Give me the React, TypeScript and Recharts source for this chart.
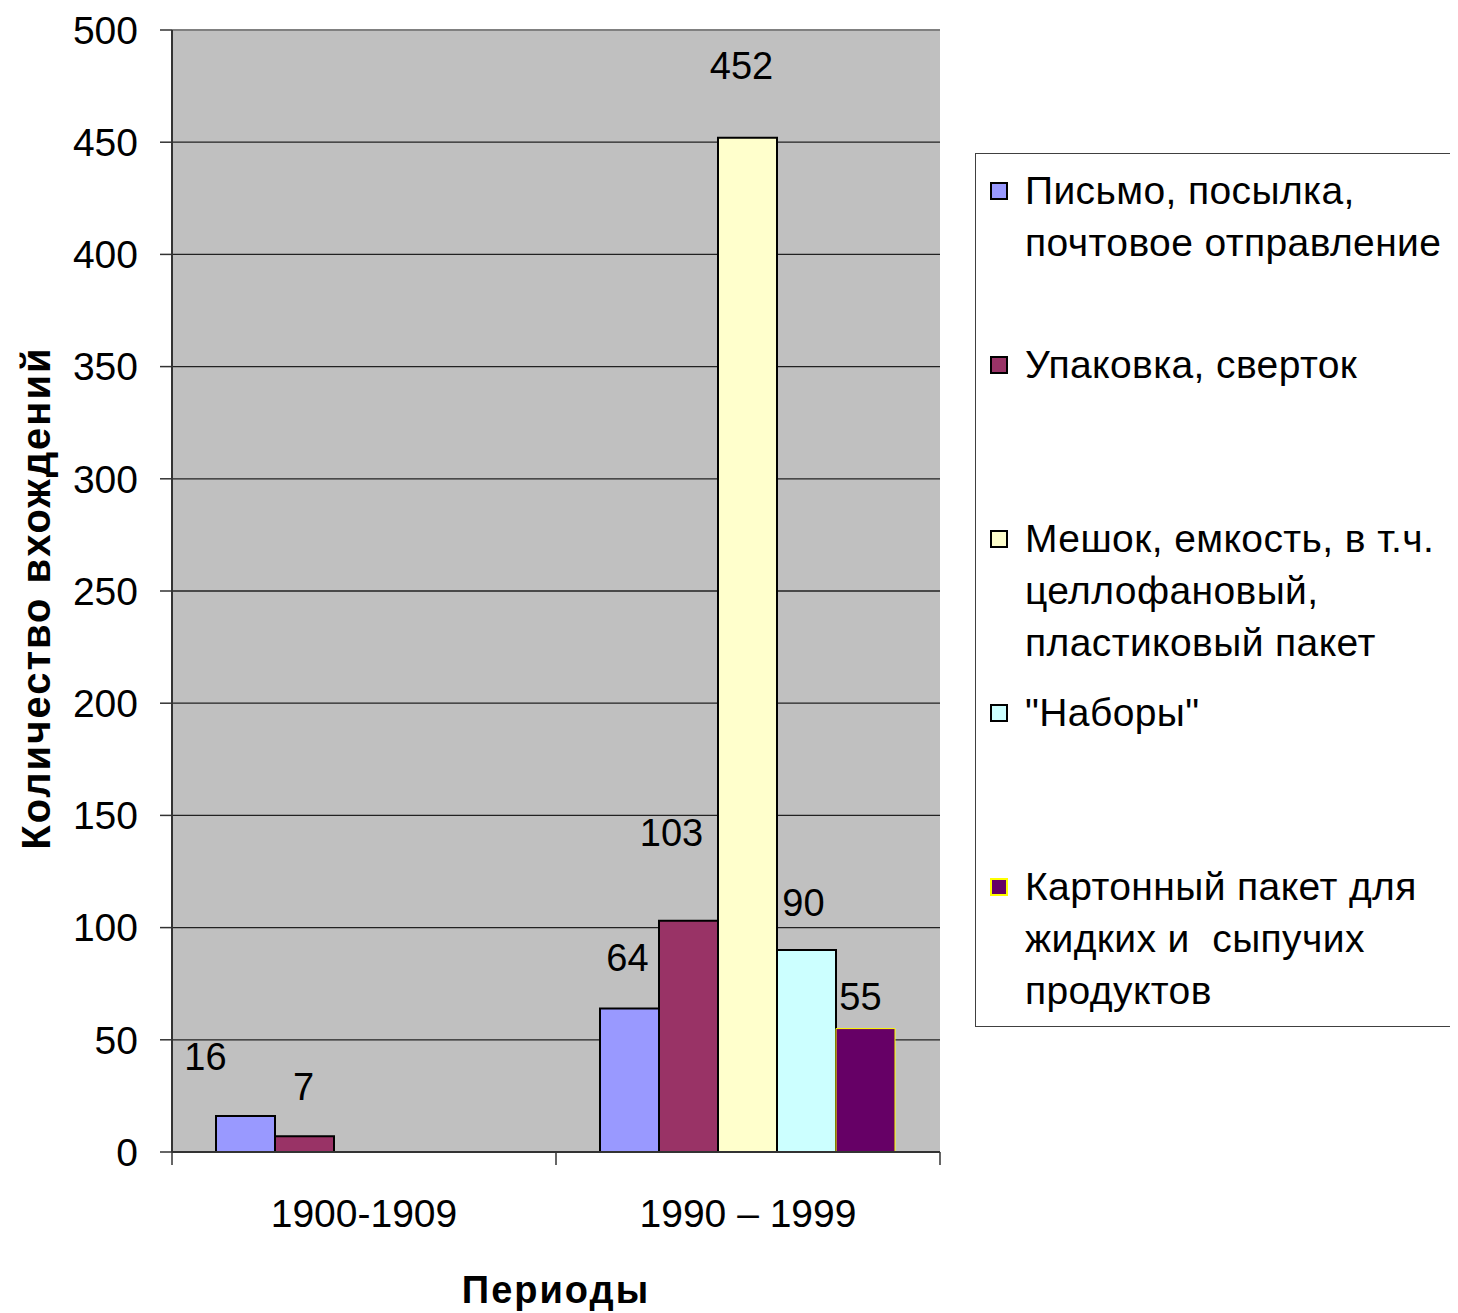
import React from 'react';
import { BarChart, Bar, XAxis, YAxis, CartesianGrid, Legend, ReferenceLine } from 'recharts';

const categories = ['1900-1909', '1990 – 1999'];
const pismo = [16, 64];
const upakovka = [7, 103];
const meshok = [null, 452];
const nabory = [null, 90];
const karton = [null, 55];
const yTicks = [0, 50, 100, 150, 200, 250, 300, 350, 400, 450, 500];

const seriesNames = {
  pismo: 'Письмо, посылка,\nпочтовое отправление',
  upakovka: 'Упаковка, сверток',
  meshok: 'Мешок, емкость, в т.ч.\nцеллофановый,\nпластиковый пакет',
  nabory: '"Наборы"',
  karton: 'Картонный пакет для\nжидких и  сыпучих\nпродуктов',
};

const seriesValues: Record<string, (number | null)[]> = { pismo, upakovka, meshok, nabory, karton };

const FONT = '"Liberation Sans", Arial, sans-serif';

const seriesStyle: Record<string, { fill: string; stroke: string; sw: number }> = {
  pismo: { fill: '#9999FF', stroke: '#000', sw: 2 },
  upakovka: { fill: '#993366', stroke: '#000', sw: 2 },
  meshok: { fill: '#FFFFCC', stroke: '#000', sw: 2 },
  nabory: { fill: '#CCFFFF', stroke: '#000', sw: 2 },
  karton: { fill: '#660066', stroke: '#FFFF00', sw: 1 },
};

// label placement tweaks (dx, distance above bar top) per series / category
const labelShift: Record<string, number[][]> = {
  pismo: [[-40, 59], [-2, 50]],
  upakovka: [[-1, 49], [-17, 88]],
  meshok: [[0, 40], [-6, 72]],
  nabory: [[0, 40], [-3, 47]],
  karton: [[0, 40], [-5, 32]],
};

const data = categories.map((c, i) => ({
  period: c,
  pismo: pismo[i],
  upakovka: upakovka[i],
  meshok: meshok[i],
  nabory: nabory[i],
  karton: karton[i],
}));

const keys = ['pismo', 'upakovka', 'meshok', 'nabory', 'karton'];

const makeLabel = (key: string) => (props: any) => {
  const { x, y, width, value } = props;
  if (value == null || value === 0) return null;
  const idx = seriesValues[key].indexOf(value);
  const sh = labelShift[key][idx] || [0, 40];
  return (
    <text
      x={x + width / 2 + sh[0]}
      y={y - sh[1]}
      textAnchor="middle"
      dominantBaseline="central"
      fontSize={38}
      fill="#000"
      fontFamily={FONT}
    >
      {value}
    </text>
  );
};

const CatTick = (props: any) => {
  const { x, y, payload, index, visibleTicksCount } = props;
  const n = visibleTicksCount || categories.length;
  const band = 768 / n;
  const axisY = y - 47;
  return (
    <g>
      <line x1={x - band / 2} x2={x - band / 2} y1={axisY} y2={axisY + 13} stroke="#333" strokeWidth={1.5} />
      {index === n - 1 && (
        <line x1={x + band / 2} x2={x + band / 2} y1={axisY} y2={axisY + 13} stroke="#333" strokeWidth={1.5} />
      )}
      <text x={x} y={y} dy="0.71em" textAnchor="middle" fontSize={39} fill="#000" fontFamily={FONT}>
        {payload.value}
      </text>
    </g>
  );
};

const LegendBox = () => (
  <div
    style={{
      boxSizing: 'border-box',
      width: 483,
      height: 874,
      borderTop: '1px solid #404040',
      borderLeft: '1px solid #404040',
      borderBottom: '1px solid #404040',
      paddingTop: 11,
      fontFamily: FONT,
      fontSize: 39,
      letterSpacing: 0.4,
      color: '#000',
      background: '#fff',
    }}
  >
    {keys.map((k) => (
      <div key={k} style={{ height: 174, display: 'flex', alignItems: 'flex-start' }}>
        <div style={{ width: 32, flexShrink: 0, display: 'flex', justifyContent: 'flex-end', paddingTop: 17 }}>
          <div
            style={{
              boxSizing: 'border-box',
              width: 18,
              height: 18,
              background: seriesStyle[k].fill,
              border: `2px solid ${k === 'karton' ? '#FFFF00' : '#000'}`,
            }}
          />
        </div>
        <div style={{ marginLeft: 17, whiteSpace: 'pre', lineHeight: '52px' }}>
          {(seriesNames as any)[k]}
        </div>
      </div>
    ))}
  </div>
);

export default function App() {
  return (
    <div style={{ width: 1450, height: 1305, fontFamily: FONT }}>
      <BarChart
        width={1450}
        height={1305}
        data={data}
        margin={{ top: 22, right: 518, bottom: 1, left: 0 }}
        barCategoryGap={44}
        barGap={0}
        style={{ fontFamily: FONT }}
      >
        <CartesianGrid vertical={false} stroke="#222" strokeWidth={1.3} fill="#C0C0C0" />
        <XAxis
          dataKey="period"
          height={160}
          tickLine={false}
          tickSize={0}
          tickMargin={47}
          axisLine={{ stroke: '#333', strokeWidth: 2 }}
          tick={<CatTick />}
          interval={0}
          label={{
            content: (p: any) => {
              const vb = p.viewBox;
              return (
                <text
                  x={vb.x + vb.width / 2}
                  y={vb.y + 138}
                  textAnchor="middle"
                  dominantBaseline="central"
                  fontSize={38}
                  fontWeight="bold"
                  letterSpacing={2}
                  fill="#000"
                  fontFamily={FONT}
                >
                  Периоды
                </text>
              );
            },
          }}
        />
        <YAxis
          width={164}
          domain={[0, 500]}
          ticks={yTicks}
          interval={0}
          tickSize={12}
          tickMargin={22}
          tick={{ fontSize: 39, fill: '#000', fontFamily: FONT }}
          tickLine={{ stroke: '#333', strokeWidth: 1.5 }}
          axisLine={{ stroke: '#333', strokeWidth: 2 }}
          label={{
            content: (p: any) => {
              const vb = p.viewBox;
              const cx = 28;
              const cy = vb.y + vb.height / 2 + 7;
              return (
                <text
                  x={cx}
                  y={cy}
                  transform={`rotate(-90, ${cx}, ${cy})`}
                  textAnchor="middle"
                  dominantBaseline="central"
                  fontSize={40}
                  fontWeight="bold"
                  letterSpacing={2}
                  fill="#000"
                  fontFamily={FONT}
                >
                  Количество вхождений
                </text>
              );
            },
          }}
        />
        <YAxis
          yAxisId="r"
          orientation="right"
          width={0}
          domain={[0, 500]}
          tick={false}
          tickLine={false}
          axisLine={{ stroke: '#808080', strokeWidth: 2 }}
        />
        <ReferenceLine y={500} stroke="#808080" strokeWidth={2} />
        {keys.map((k) => (
          <Bar
            key={k}
            dataKey={k}
            name={(seriesNames as any)[k]}
            fill={seriesStyle[k].fill}
            stroke={seriesStyle[k].stroke}
            strokeWidth={seriesStyle[k].sw}
            isAnimationActive={false}
            label={makeLabel(k)}
          />
        ))}
        <Legend
          layout="vertical"
          align="center"
          verticalAlign="middle"
          content={() => <LegendBox />}
          wrapperStyle={{ position: 'absolute', left: 967, top: 145, width: 483, height: 874, margin: 0 }}
        />
      </BarChart>
    </div>
  );
}
